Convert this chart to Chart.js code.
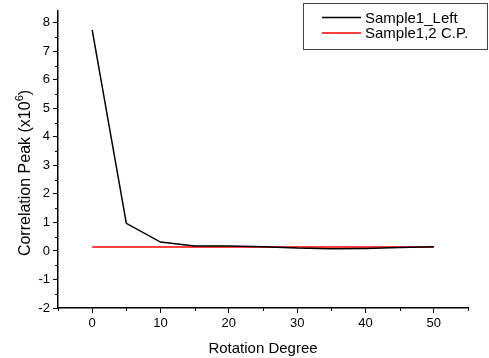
<!DOCTYPE html>
<html>
<head>
<meta charset="utf-8">
<script src="https://cdn.jsdelivr.net/npm/chart.js@4"></script>
<style>
  html, body { margin: 0; padding: 0; background: #fff; }
  #wrap { width: 489px; height: 358px; }
</style>
</head>
<body>
<div id="wrap"><canvas id="peakChart" width="489" height="358"></canvas></div>
<script>
// values
const degrees = [0, 5, 10, 15, 20, 25, 30, 35, 40, 45, 50];
const sample1Left = [7.75, 0.97, 0.31, 0.17, 0.17, 0.15, 0.1, 0.08, 0.09, 0.12, 0.15];
const sample12CP = [0.14, 0.14, 0.14, 0.14, 0.14, 0.14, 0.14, 0.14, 0.14, 0.14, 0.14];
const seriesNames = ['Sample1_Left', 'Sample1,2 C.P.'];
const xTicks = [0, 10, 20, 30, 40, 50];
const xMinorTicks = [-5, 5, 15, 25, 35, 45, 55];
const yTicks = [-2, -1, 0, 1, 2, 3, 4, 5, 6, 7, 8];
const yMinorTicks = [-1.5, -0.5, 0.5, 1.5, 2.5, 3.5, 4.5, 5.5, 6.5, 7.5];
const yTitle = ['Correlation Peak (x10', '6', ')'];

const FONT = 'Liberation Sans, Arial, sans-serif';

const toPoints = (ys) => degrees.map((d, i) => ({ x: d, y: ys[i] }));

// small ticks between the labelled ones
const minorTicks = {
  id: 'minorTicks',
  afterDraw(chart) {
    const c = chart.ctx, xs = chart.scales.x, ys = chart.scales.y;
    c.save();
    c.strokeStyle = '#000';
    c.lineWidth = 1;
    c.beginPath();
    xMinorTicks.forEach(v => {
      const px = Math.round(xs.getPixelForValue(v)) + 0.5;
      c.moveTo(px, xs.top);
      c.lineTo(px, xs.top + 3);
    });
    yMinorTicks.forEach(v => {
      const py = Math.round(ys.getPixelForValue(v)) + 0.5;
      c.moveTo(ys.right, py);
      c.lineTo(ys.right - 3, py);
    });
    c.stroke();
    c.restore();
  }
};

// y title with a real superscript
const yAxisTitle = {
  id: 'yAxisTitle',
  afterDraw(chart) {
    const c = chart.ctx;
    const big = '16px ' + FONT, small = '11px ' + FONT;
    c.save();
    c.font = big;
    const w0 = c.measureText(yTitle[0]).width;
    const w2 = c.measureText(yTitle[2]).width;
    c.font = small;
    const w1 = c.measureText(yTitle[1]).width;
    const total = w0 + w1 + w2;
    c.translate(30, 173);
    c.rotate(-Math.PI / 2);
    c.fillStyle = '#000';
    c.textBaseline = 'alphabetic';
    c.textAlign = 'left';
    let x = -total / 2;
    c.font = big;
    c.fillText(yTitle[0], x, 0);
    x += w0;
    c.font = small;
    c.fillText(yTitle[1], x, -7);
    x += w1;
    c.font = big;
    c.fillText(yTitle[2], x, 0);
    c.restore();
  }
};

// boxed legend in the upper right corner
const boxLegend = {
  id: 'boxLegend',
  afterDraw(chart) {
    const c = chart.ctx;
    c.save();
    c.fillStyle = '#fff';
    c.fillRect(303, 3, 184, 46);
    c.strokeStyle = '#444';
    c.lineWidth = 1;
    c.strokeRect(303.5, 3.5, 184, 46);
    c.font = '15px ' + FONT;
    c.textBaseline = 'middle';
    chart.data.datasets.forEach((ds, i) => {
      const y = 17.5 + i * 15.5;
      c.strokeStyle = ds.borderColor;
      c.lineWidth = 1.5;
      c.beginPath();
      c.moveTo(322, y);
      c.lineTo(361, y);
      c.stroke();
      c.fillStyle = '#000';
      c.fillText(ds.label, 365, y + 1);
    });
    c.restore();
  }
};

new Chart(document.getElementById('peakChart'), {
  type: 'line',
  data: {
    datasets: [
      { label: seriesNames[0], data: toPoints(sample1Left), borderColor: '#000', borderWidth: 1.5, pointRadius: 0, tension: 0 },
      { label: seriesNames[1], data: toPoints(sample12CP), borderColor: '#ff0000', borderWidth: 1.5, pointRadius: 0, tension: 0 }
    ]
  },
  options: {
    responsive: false,
    animation: false,
    layout: { padding: { left: 0, right: 21, top: 7, bottom: 0 } },
    plugins: { legend: { display: false }, tooltip: { enabled: false } },
    scales: {
      x: {
        type: 'linear',
        min: -5,
        max: 55,
        afterBuildTicks: (s) => { s.ticks = xTicks.map(v => ({ value: v })); },
        afterFit: (s) => { s.height = 50; },
        ticks: { color: '#000', font: { family: FONT, size: 13 }, padding: 3, maxRotation: 0 },
        grid: { drawOnChartArea: false, drawTicks: true, tickLength: 5, color: '#000' },
        border: { color: '#000', width: 1.5 },
        title: { display: true, text: 'Rotation Degree', color: '#000', font: { family: FONT, size: 15 }, padding: { top: 3, bottom: 0 } }
      },
      y: {
        type: 'linear',
        min: -2,
        max: 8.42,
        afterBuildTicks: (s) => { s.ticks = yTicks.map(v => ({ value: v })); },
        afterFit: (s) => { s.width = 58; },
        ticks: { color: '#000', font: { family: FONT, size: 13 }, padding: 3 },
        grid: { drawOnChartArea: false, drawTicks: true, tickLength: 5, color: '#000' },
        border: { color: '#000', width: 1.5 }
      }
    }
  },
  plugins: [minorTicks, yAxisTitle, boxLegend]
});
</script>
</body>
</html>
